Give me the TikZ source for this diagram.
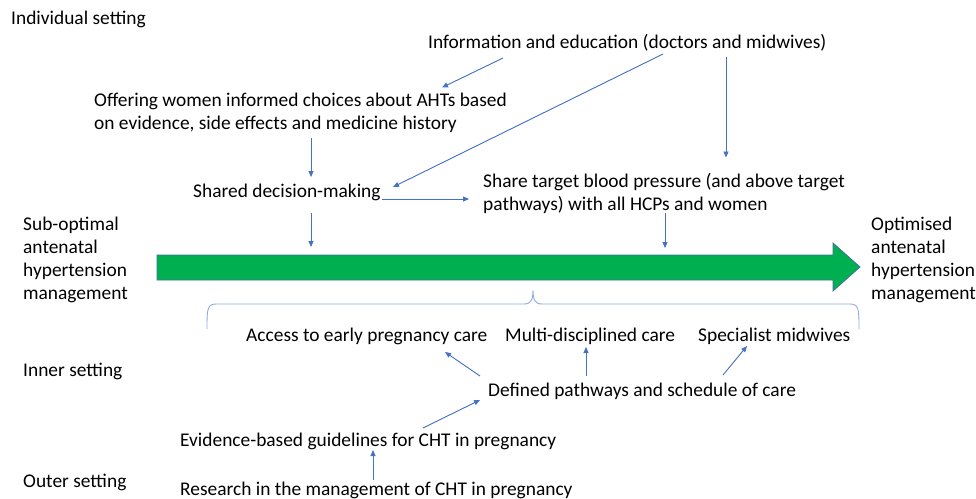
\documentclass[tikz,border=0pt]{standalone}
\usepackage{fontspec}
\setmainfont{Carlito}
\usepackage{xcolor}
\usetikzlibrary{arrows.meta,positioning,calc}
\definecolor{linkblue}{HTML}{4472C4}
\definecolor{braceblue}{HTML}{8FAADC}
\definecolor{flowgreen}{HTML}{00B050}
\definecolor{flowedge}{HTML}{41719C}

\begin{document}
\begin{tikzpicture}[x=1pt,y=-1pt,>={Triangle[length=6pt,width=5pt]},
  font=\fontsize{19.4}{23}\selectfont,
  lbl/.style={anchor=west,inner sep=0pt,text height=15pt,text depth=2pt},
  para/.style={anchor=west,inner sep=0pt,align=left},
  conn/.style={->,draw=linkblue,fill=linkblue,line width=0.9pt},
  brace/.style={draw=braceblue,line width=0.9pt}]
  \useasboundingbox (0,0) rectangle (976,498);
  \clip (0,0) rectangle (976,498);

  % settings down the left
  \node[lbl] (indiv) at (11,18) {Individual setting};
  \node[lbl] (inner) at (23,370) {Inner setting};
  \node[lbl] (outer) at (23,481) {Outer setting};

  % individual level
  \node[lbl] (info) at (428,42) {Information and education (doctors and midwives)};
  \node[para] (offer) at (94,112.5) {Offering women informed choices about AHTs based\\on evidence, side effects and medicine history};
  \node[lbl] (shared) at (193,191) {Shared decision-making};
  \node[para] (share) at (483,193.5) {Share target blood pressure (and above target\\pathways) with all HCPs and women};

  % the big arrow
  \node[para] (subopt) at (23,260) {Sub-optimal\\antenatal\\hypertension\\management};
  \node[para] (optim) at (871,260) {Optimised\\antenatal\\hypertension\\management};
  \draw[fill=flowgreen,draw=flowedge,line width=0.8pt]
    (157,255) -- (833,255) -- (833,243) -- (860,267) -- (833,291) -- (833,280) -- (157,280) -- cycle;
  \coordinate (flowA) at (311,247);
  \coordinate (flowB) at (665,248);

  % brace over the inner level
  \draw[brace] (207,329) .. controls (207,310) and (207,304) .. (216,304) -- (524,304)
    .. controls (531,304) and (533,300) .. (533,290)
    .. controls (533,300) and (535,304) .. (542,304) -- (850,304)
    .. controls (859,304) and (859,310) .. (859,329);

  % inner and outer levels
  \node[lbl] (access) at (246,335) {Access to early pregnancy care};
  \node[lbl] (multi) at (505,335) {Multi-disciplined care};
  \node[lbl] (spec) at (698,335) {Specialist midwives};
  \node[lbl] (defined) at (488,390) {Defined pathways and schedule of care};
  \node[lbl] (evid) at (180,440) {Evidence-based guidelines for CHT in pregnancy};
  \node[lbl] (research) at (180,489) {Research in the management of CHT in pregnancy};

  % links
  \draw[conn] ($(info.west)+(75,16)$) -- ($(offer.west)+(348,-25)$);
  \draw[conn] ($(info.west)+(235,12)$) -- ($(shared.west)+(200,-4)$);
  \draw[conn] ($(info.west)+(298,15)$) -- ($(share.west)+(243,-36)$);
  \draw[conn] ($(offer.west)+(217,25)$) -- ($(shared.west)+(118,-14)$);
  \draw[conn] ($(shared.east)+(1,8)$) -- ($(share.west)+(-14,5.5)$);
  \draw[conn] ($(shared.west)+(118,22)$) -- (flowA);
  \draw[conn] ($(share.west)+(182,19.5)$) -- (flowB);
  \draw[conn] ($(defined.west)+(-8,-14)$) -- ($(access.west)+(199,17)$);
  \draw[conn] ($(defined.west)+(98,-14)$) -- ($(multi.west)+(81,12)$);
  \draw[conn] ($(defined.west)+(235,-15)$) -- ($(spec.west)+(49,11)$);
  \draw[conn] ($(evid.west)+(243,-12)$) -- ($(defined.west)+(-8,10)$);
  \draw[conn] ($(research.west)+(193,-9)$) -- ($(evid.west)+(193,10)$);
\end{tikzpicture}
\end{document}
